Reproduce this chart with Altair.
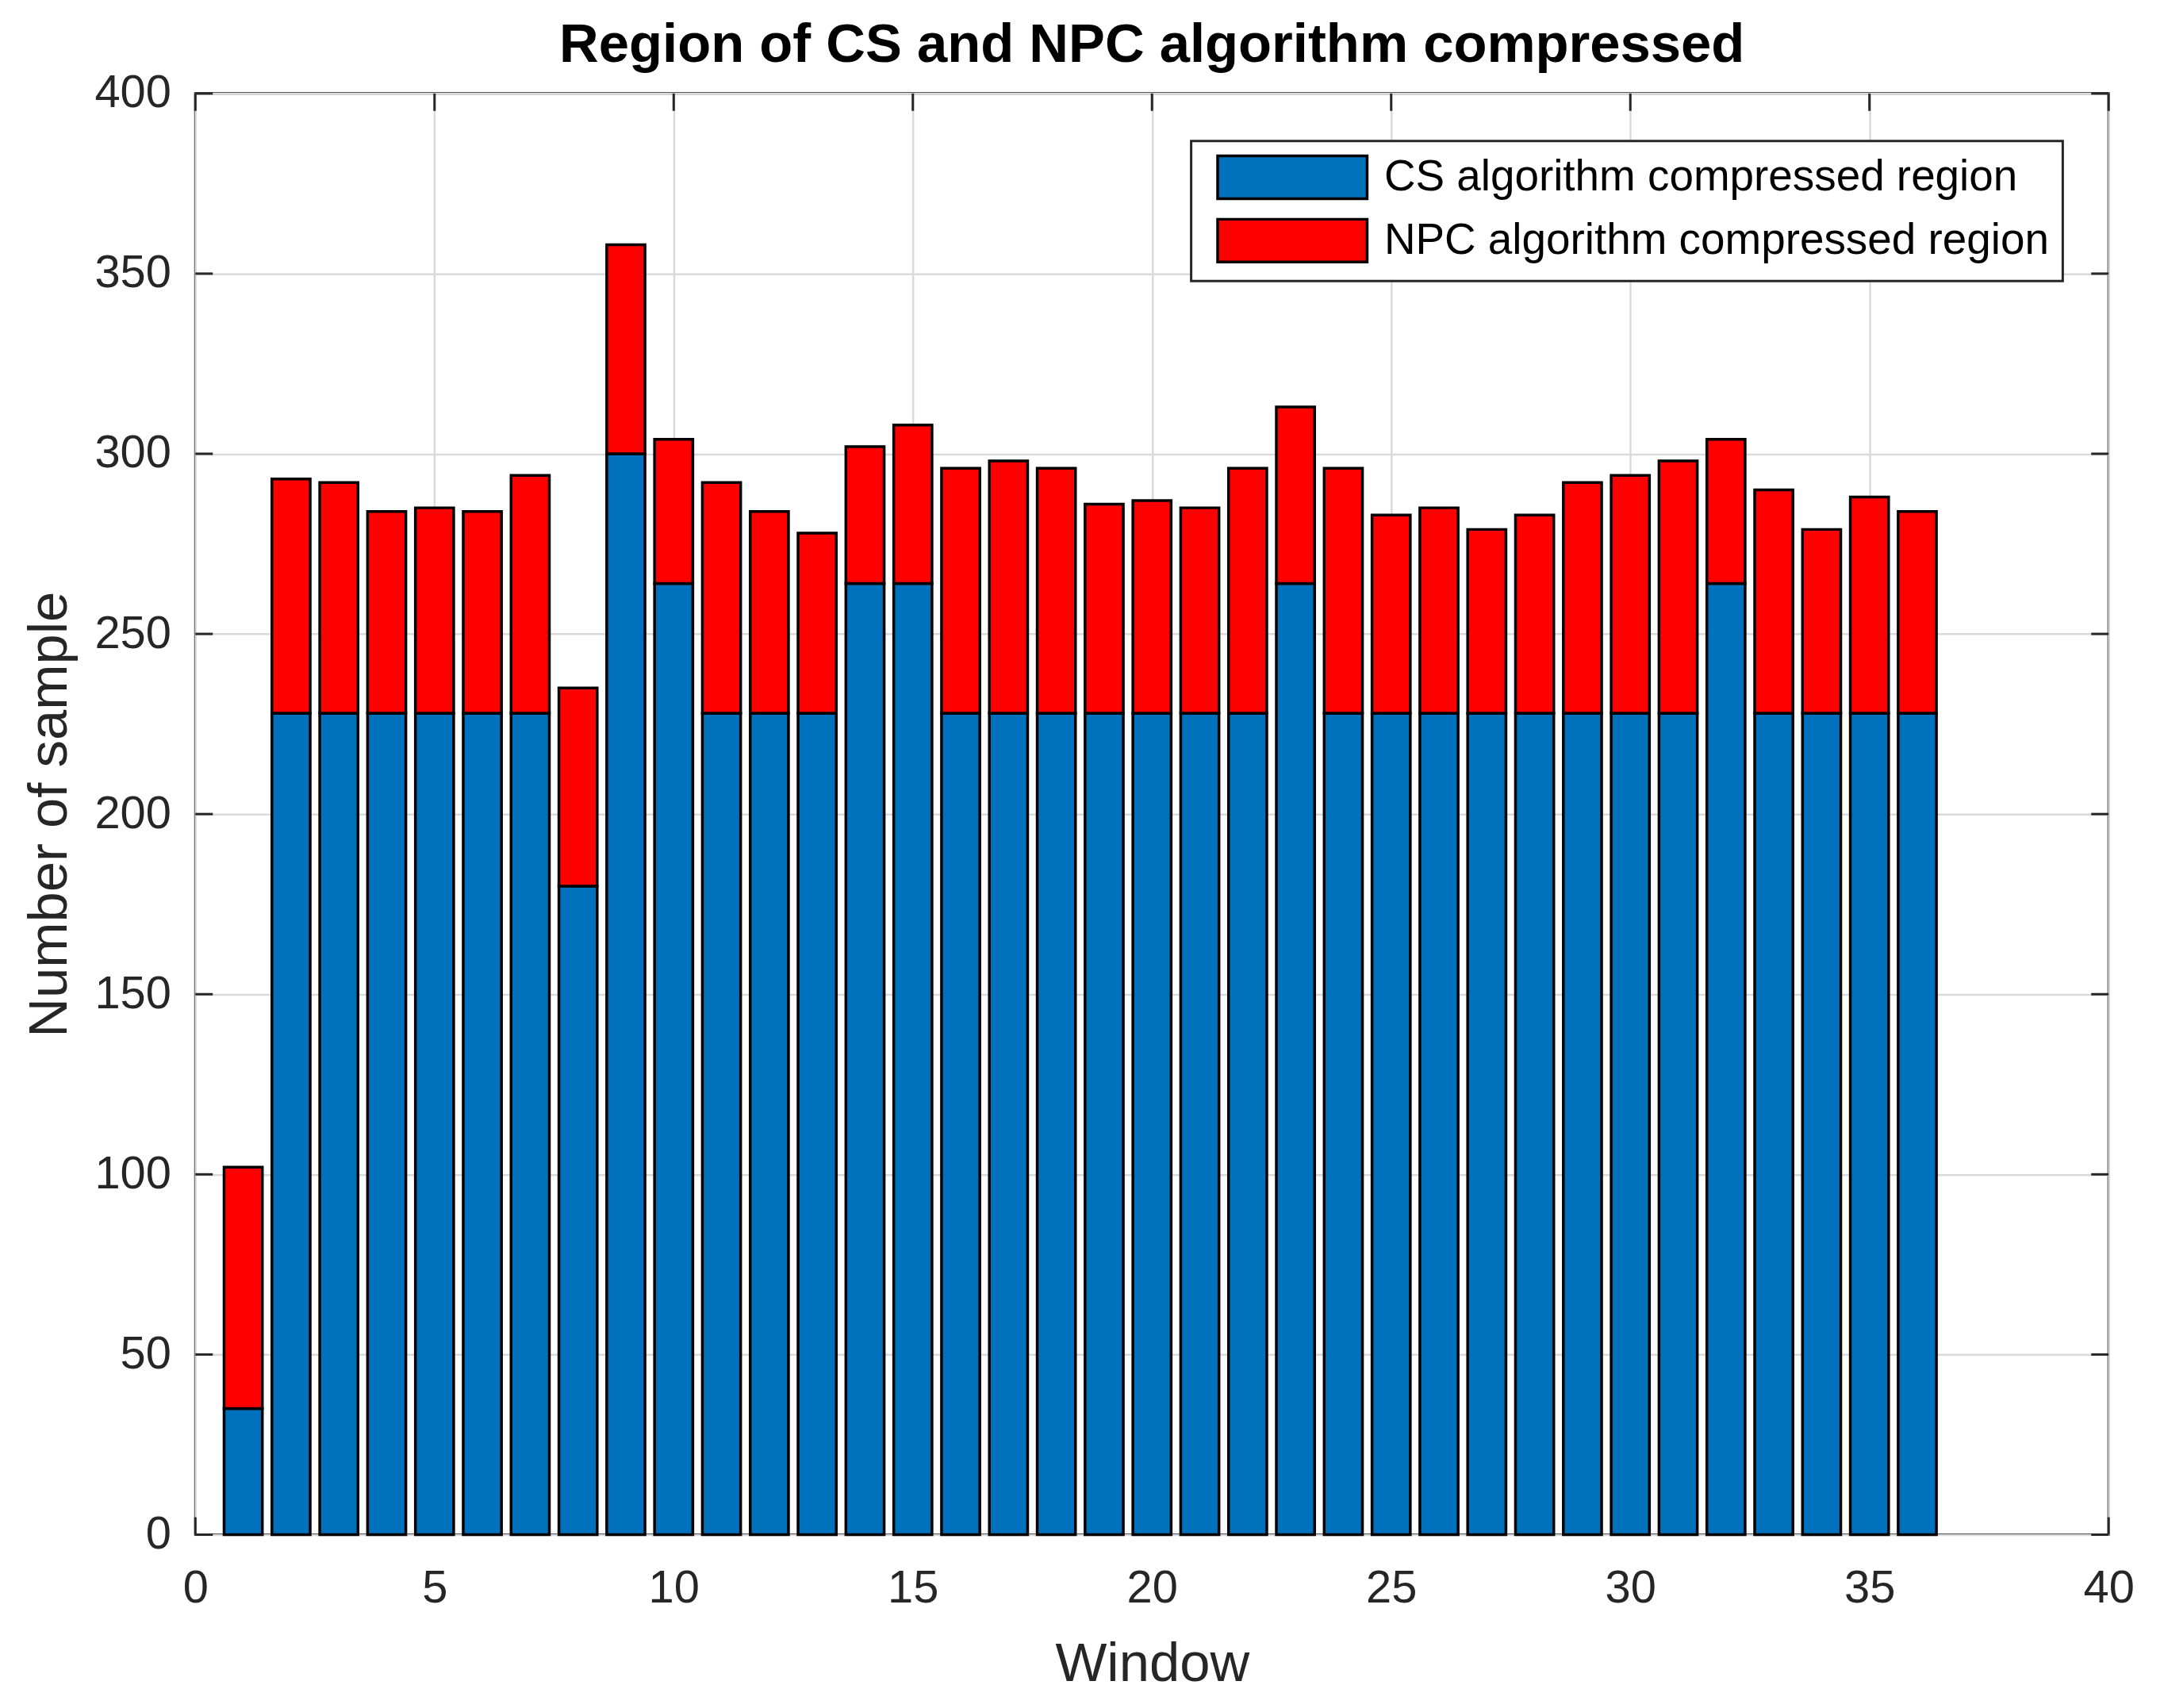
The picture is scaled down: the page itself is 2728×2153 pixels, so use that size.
import altair as alt
import pandas as pd

# ---- data ----
windows = list(range(1, 37))
cs_region = [35, 228, 228, 228, 228, 228, 228, 180, 300, 264, 228, 228,
             228, 264, 264, 228, 228, 228, 228, 228, 228, 228, 264, 228,
             228, 228, 228, 228, 228, 228, 228, 264, 228, 228, 228, 228]
total_region = [102, 293, 292, 284, 285, 284, 294, 235, 358, 304, 292, 284,
                278, 302, 308, 296, 298, 296, 286, 287, 285, 296, 313, 296,
                283, 285, 279, 283, 292, 294, 298, 304, 290, 279, 288, 284]
series_names = ["CS algorithm compressed region", "NPC algorithm compressed region"]
series_colors = ["#0072BD", "#FF0000"]
y_ticks = list(range(0, 401, 50))
x_ticks = list(range(0, 41, 5))

rows = []
for w, c, t in zip(windows, cs_region, total_region):
    rows.append({"window": w, "series": series_names[0], "lo": 0, "hi": c})
    rows.append({"window": w, "series": series_names[1], "lo": c, "hi": t})
df = pd.DataFrame(rows)
ydf = pd.DataFrame({"v": y_ticks})
xdf = pd.DataFrame({"v": x_ticks})

W, H = 2419, 1822
TK = 22
FONT = "Liberation Sans"
AX = "#262626"

xs = alt.Scale(domain=[0, 40], nice=False, zero=False)
ys = alt.Scale(domain=[0, 400], nice=False)
x_axis = alt.Axis(values=x_ticks, title="Window", labelPadding=39,
                  titlePadding=33, format="d", labelFlush=False)
y_axis = alt.Axis(values=y_ticks, title="Number of sample", labelPadding=31,
                  titlePadding=22, format="d", labelFlush=False)

bars = alt.Chart(df).transform_calculate(
    x0="datum.window - 0.4", x1="datum.window + 0.4"
).mark_bar(stroke="black", strokeWidth=3.5, opacity=1).encode(
    x=alt.X("x0:Q", scale=xs, axis=x_axis),
    x2="x1:Q",
    y=alt.Y("lo:Q", scale=ys, axis=y_axis),
    y2="hi:Q",
    color=alt.Color("series:N",
                    scale=alt.Scale(domain=series_names, range=series_colors),
                    legend=alt.Legend(title=None, orient="none", legendX=1259, legendY=60,
                                      padding=17, strokeColor=AX, fillColor="white",
                                      symbolType="M-3.5,-1H3.5V1H-3.5Z", symbolSize=2916,
                                      symbolStrokeColor="black", symbolStrokeWidth=3.5,
                                      symbolOffset=82, labelOffset=87, rowPadding=12,
                                      labelFontSize=55, labelFont=FONT, labelColor="black",
                                      labelLimit=2000, symbolOpacity=1)),
)

tick_style = dict(color=AX, strokeWidth=3)
yl = alt.Chart(ydf).mark_rule(**tick_style).encode(
    y=alt.Y("v:Q", scale=ys, axis=y_axis), x=alt.value(0), x2=alt.value(TK))
yr = alt.Chart(ydf).mark_rule(**tick_style).encode(
    y=alt.Y("v:Q", scale=ys, axis=y_axis), x=alt.value(W - TK), x2=alt.value(W))
xb = alt.Chart(xdf).mark_rule(**tick_style).encode(
    x=alt.X("v:Q", scale=xs, axis=x_axis), y=alt.value(H - TK), y2=alt.value(H))
xt = alt.Chart(xdf).mark_rule(**tick_style).encode(
    x=alt.X("v:Q", scale=xs, axis=x_axis), y=alt.value(0), y2=alt.value(TK))

chart = alt.layer(yl, yr, xb, xt, bars).properties(
    width=W, height=H,
    title=alt.TitleParams("Region of CS and NPC algorithm compressed", font=FONT,
                          fontSize=69, fontWeight="bold", color="black",
                          anchor="middle", offset=-3),
    autosize=alt.AutoSizeParams(type="none"),
    padding={"left": 239, "top": 107, "right": 62, "bottom": 216},
).configure_view(
    stroke=AX, strokeWidth=3
).configure_axis(
    grid=True, gridColor="#dadada", gridWidth=2.5, domain=False, ticks=False,
    labelFont=FONT, labelFontSize=58, labelColor=AX,
    titleFont=FONT, titleFontSize=69, titleFontWeight="normal", titleColor=AX,
).configure_legend(
    strokeWidth=3
)

chart.save("out.html", embed_options={"renderer": "svg", "actions": False})
